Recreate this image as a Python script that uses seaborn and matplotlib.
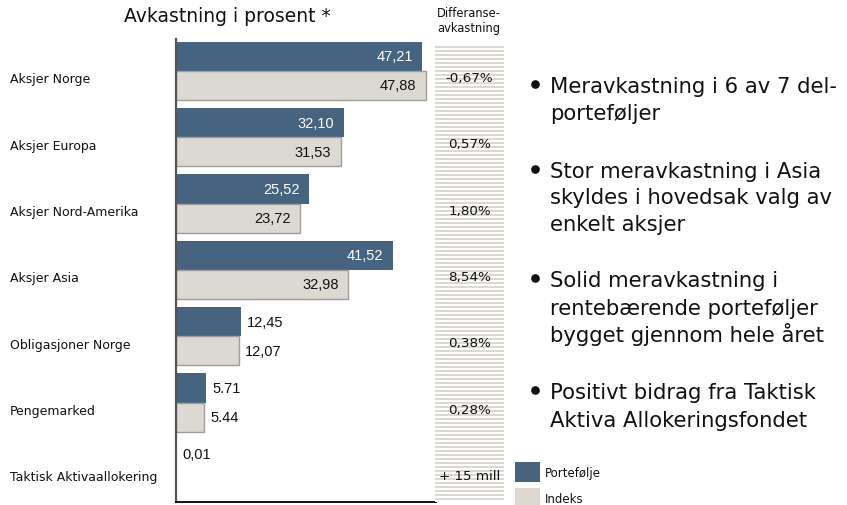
import numpy as np
import pandas as pd
import matplotlib
matplotlib.use("Agg")
import matplotlib.pyplot as plt
import matplotlib.transforms as mtrans
from matplotlib.lines import Line2D
from matplotlib.patches import Rectangle
import seaborn as sns

# ---- data -------------------------------------------------------------
categories = ["Aksjer Norge", "Aksjer Europa", "Aksjer Nord-Amerika", "Aksjer Asia",
              "Obligasjoner Norge", "Pengemarked", "Taktisk Aktivaallokering"]
portefolje = [47.21, 32.10, 25.52, 41.52, 12.45, 5.71, 0.01]
indeks = [47.88, 31.53, 23.72, 32.98, 12.07, 5.44, np.nan]
# decimal separator used when printing each row's values
decimal_sep = [",", ",", ",", ",", ",", ".", ","]
differanse = ["-0,67%", "0,57%", "1,80%", "8,54%", "0,38%", "0,28%", "+ 15 mill"]
series = ["Portefølje", "Indeks"]

bullets = [
    ["Meravkastning i 6 av 7 del-", "porteføljer"],
    ["Stor meravkastning i Asia", "skyldes i hovedsak valg av", "enkelt aksjer"],
    ["Solid meravkastning i", "rentebærende porteføljer", "bygget gjennom hele året"],
    ["Positivt bidrag fra Taktisk", "Aktiva Allokeringsfondet"],
]

# ---- style ------------------------------------------------------------
DARK = "#466380"
LIGHT = "#dcd9d2"
INK = "#111111"
sns.set_theme(style="white")
plt.rcParams["font.family"] = ["DejaVu Sans"]
NUM_FONT = ["Liberation Sans", "DejaVu Sans"]

W, H = 847, 506
fig = plt.figure(figsize=(W / 100, H / 100), dpi=100)
fig.patch.set_facecolor("white")


def fx(px):
    return px / W


def fy(py):
    return 1 - py / H


ax_top, ax_bot, ax_left, ax_right = 40, 503, 176, 436
ax = fig.add_axes([fx(ax_left), fy(ax_bot), fx(ax_right - ax_left), (ax_bot - ax_top) / H])

df = pd.DataFrame({
    "kategori": categories * 2,
    "serie": [series[0]] * len(categories) + [series[1]] * len(categories),
    "verdi": portefolje + indeks,
})
sns.barplot(data=df, y="kategori", x="verdi", hue="serie", hue_order=series,
            palette=[DARK, LIGHT], orient="h", width=0.88, dodge=True,
            legend=False, ax=ax, saturation=1)

# light bars get a grey outline
for bar in ax.containers[1]:
    bar.set_edgecolor("#a09e9a")
    bar.set_linewidth(1.0)
for bar in ax.containers[0]:
    bar.set_edgecolor("none")

ax.set_xlim(0, 49.8)
ax.set_ylim(6.5, -0.48)
ax.set_xlabel("")
ax.set_ylabel("")
ax.set_xticks([])
ax.set_yticks([])
for s in ["top", "right"]:
    ax.spines[s].set_visible(False)
ax.spines["left"].set_color("#555555")
ax.spines["left"].set_linewidth(1.6)
ax.spines["bottom"].set_color(INK)
ax.spines["bottom"].set_linewidth(1.4)

# value labels
half = 0.22
for i, (p, q, sep) in enumerate(zip(portefolje, indeks, decimal_sep)):
    for val, yy, inside_col in ((p, i - half, "white"), (q, i + half, INK)):
        if np.isnan(val):
            continue
        txt = f"{val:.2f}".replace(".", sep)
        if val > 20:
            ax.text(val - 1.8, yy, txt, ha="right", va="center", color=inside_col,
                    fontsize=10.5, family=NUM_FONT)
        else:
            ax.text(val + 1.2, yy, txt, ha="left", va="center", color=INK,
                    fontsize=10.5, family=NUM_FONT)

# category labels
lab_tr = mtrans.blended_transform_factory(fig.transFigure, ax.transData)
for i, c in enumerate(categories):
    fig.text(fx(10), i + 0.12, c, transform=lab_tr, ha="left", va="center",
             fontsize=9, color=INK)

# striped difference column
ax2 = fig.add_axes([fx(435), fy(ax_bot), fx(69), (ax_bot - ax_top) / H])
n_stripes = 114
pattern = np.tile([[0.0], [1.0]], (n_stripes, 1))
cmap = matplotlib.colors.ListedColormap([LIGHT, "white"])
ax2.imshow(pattern, cmap=cmap, aspect="auto", interpolation="nearest",
           extent=(0, 1, 6.5, -0.374), zorder=0)
ax2.set_xlim(0, 1)
ax2.set_ylim(6.5, -0.48)
ax2.axis("off")
for i, d in enumerate(differanse):
    ax2.text(0.5, i + 0.1, d, ha="center", va="center", fontsize=9.7,
             color=INK, zorder=3)

# headers
fig.text(fx(227), fy(16), "Avkastning i prosent *", ha="center", va="center",
         fontsize=13.5, color=INK)
fig.text(fx(469), fy(21), "Differanse-\navkastning", ha="center", va="center",
         fontsize=8.3, color=INK, linespacing=1.15)

# legend
for (name, col, top) in ((series[0], DARK, 463), (series[1], LIGHT, 489)):
    fig.patches.append(Rectangle(
        (fx(515), fy(top + 20)), fx(25), 20 / H, transform=fig.transFigure,
        facecolor=col, edgecolor="none"))
    fig.text(fx(545), fy(top + 11), name, ha="left", va="center",
             fontsize=8.5, color=INK)

# bullet points (baselines of each line, in pixels from the top)
bullet_baselines = [[93, 120], [178, 204, 231], [287, 315, 342], [399, 427]]
for lines, bases in zip(bullets, bullet_baselines):
    fig.lines.append(Line2D([fx(534.5)], [fy(bases[0] - 8)], marker="o",
                            markersize=5.2, color=INK, transform=fig.transFigure))
    for line, b in zip(lines, bases):
        fig.text(fx(550), fy(b), line, ha="left", va="baseline", fontsize=15.2,
                 color=INK)

fig.savefig("out.png", dpi=100, facecolor="white")
